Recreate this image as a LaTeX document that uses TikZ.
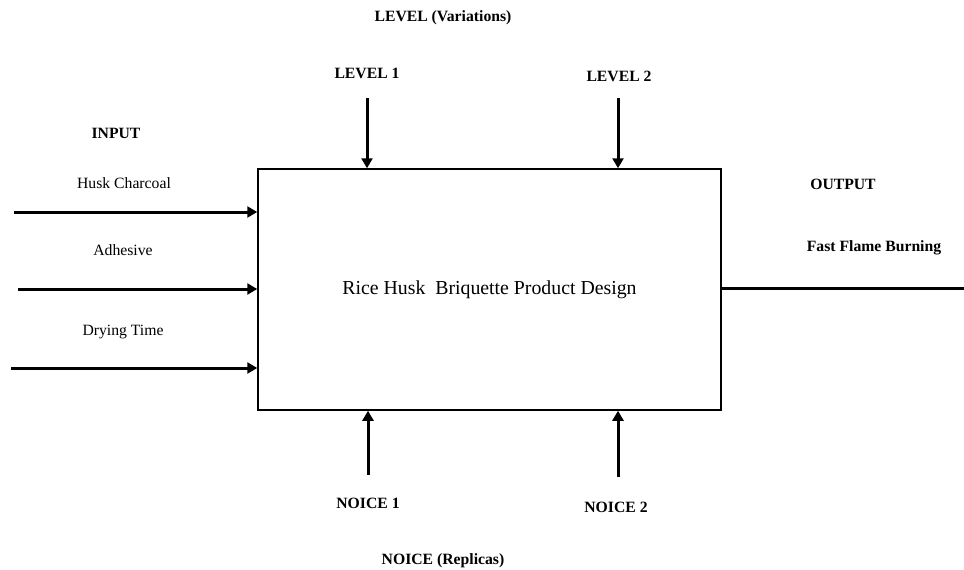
\documentclass[tikz,border=0pt]{standalone}
\usepackage{fontspec}
\setmainfont{Liberation Serif}
\usetikzlibrary{arrows.meta,positioning,calc}

\begin{document}
\begin{tikzpicture}[x=1pt, y=-1pt,
  >={Triangle[length=10pt,width=11pt]},
  box/.style={draw, line width=1.5pt, minimum width=463pt, minimum height=241pt, font=\fontsize{19.8}{23}\selectfont},
  lab/.style={font=\fontsize{15.7}{18}\selectfont},
  head/.style={font=\bfseries\fontsize{15.7}{18}\selectfont},
  arr/.style={->, line width=3pt}]
  \useasboundingbox (0,0) rectangle (964,570);
  \node[box] (B) at (489.5,289.5) {Rice Husk\ \ Briquette Product Design};
  % level side
  \node[head] (Lv) at (443,18) {LEVEL (Variations)};
  \node[head] (L1) at (367,73) {LEVEL 1};
  \node[head] (L2) at (619,76) {LEVEL 2};
  \coordinate (l1) at (367,98);
  \coordinate (l2) at (618,98);
  \draw[arr] (l1) -- (l1 |- B.north);
  \draw[arr] (l2) -- (l2 |- B.north);
  % inputs
  \node[head] (In) at (116,133) {INPUT};
  \node[lab] (I1) at (124,183) {Husk Charcoal};
  \node[lab] (I2) at (123,250) {Adhesive};
  \node[lab] (I3) at (123,332) {Drying Time};
  \coordinate (i1) at (14,212);
  \coordinate (i2) at (18,289);
  \coordinate (i3) at (11,368);
  \draw[arr] (i1) -- (i1 -| B.west);
  \draw[arr] (i2) -- (i2 -| B.west);
  \draw[arr] (i3) -- (i3 -| B.west);
  % output
  \node[head] (Out) at (843,184) {OUTPUT};
  \node[head] (O1) at (874,248) {Fast Flame Burning};
  \coordinate (o1) at (964,288);
  \draw[line width=3pt] (o1 -| B.east) -- (o1);
  % noise side
  \coordinate (n1) at (368,475);
  \coordinate (n2) at (618,477);
  \draw[arr] (n1) -- (n1 |- B.south);
  \draw[arr] (n2) -- (n2 |- B.south);
  \node[head] (N1) at (368,503) {NOICE 1};
  \node[head] (N2) at (616,507) {NOICE 2};
  \node[head] (Nr) at (443,561) {NOICE (Replicas)};
\end{tikzpicture}
\end{document}
